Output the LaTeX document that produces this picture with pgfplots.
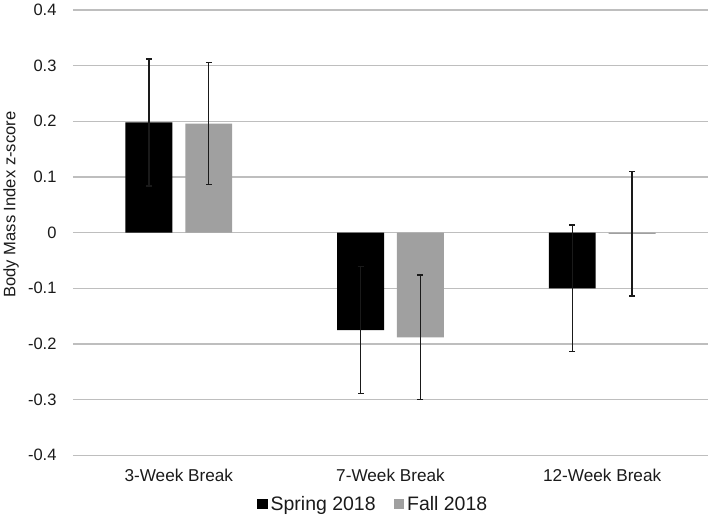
\documentclass[border=0pt]{standalone}
\usepackage{pgfplots}
\pgfplotsset{compat=1.18}
\usepackage{fontspec}
\setmainfont{Liberation Sans}
\definecolor{barblack}{HTML}{000000}
\definecolor{bargray}{HTML}{A0A0A0}
\definecolor{gridgray}{HTML}{BEBEBE}
\definecolor{txt}{HTML}{1A1A1A}
\begin{document}
\begin{tikzpicture}
\begin{axis}[
  scale only axis,
  width=636pt, height=446pt,
  xmin=-0.5, xmax=2.5,
  ymin=-0.4, ymax=0.4,
  ybar=13pt, bar width=47pt,
  axis line style={draw=none},
  ymajorgrids=true,
  grid style={gridgray, line width=1.3pt},
  ytick={-0.4,-0.3,-0.2,-0.1,0,0.1,0.2,0.3,0.4},
  yticklabels={-0.4,-0.3,-0.2,-0.1,0,0.1,0.2,0.3,0.4},
  xtick={0,1,2},
  xticklabels={3-Week Break,7-Week Break,12-Week Break},
  major tick length=0pt,
  tick style={draw=none},
  yticklabel style={font=\fontsize{16.5}{19}\selectfont, text=txt, anchor=east, xshift=-13pt},
  xticklabel style={font=\fontsize{17.2}{19}\selectfont, text=txt, anchor=base, yshift=-26pt},
  legend style={draw=none, fill=none, at={(axis description cs:0.472,-0.11)}, anchor=center,
    font=\fontsize{19.5}{22}\selectfont, text=txt,
    /tikz/every even column/.append style={column sep=17pt},
    /tikz/every odd column/.append style={column sep=2pt},
    nodes={inner sep=1pt}},
  legend columns=2,
  legend image code/.code={\fill[#1] (0pt,-5pt) rectangle (10.5pt,5.5pt);},
  error bars/y dir=both,
  error bars/y explicit,
  error bars/error bar style={line width=1.4pt, color=txt},
  error bars/error mark options={rotate=90, mark size=3pt, line width=1.4pt, color=txt},
  clip=false,
]
\addplot[fill=barblack, draw=none] coordinates {
  (0, 0.198) +- (0, 0.114)
  (1, -0.175) +- (0, 0.114)
  (2, -0.100) +- (0, 0.114)
};
\addlegendentry{Spring 2018}
\addplot[fill=bargray, draw=none] coordinates {
  (0, 0.196) +- (0, 0.110)
  (1, -0.188) +- (0, 0.112)
  (2, -0.002) +- (0, 0.112)
};
\addlegendentry{Fall 2018}
\node[rotate=90, anchor=center, font=\fontsize{16.6}{19}\selectfont, text=txt]
  at (axis description cs:-0.0975,0.563) {Body Mass Index z-score};
\end{axis}
\path[use as bounding box] (current axis.south west) ++(-72pt,-59pt) rectangle ([xshift=6pt,yshift=10pt]current axis.north east);
\end{tikzpicture}
\end{document}
